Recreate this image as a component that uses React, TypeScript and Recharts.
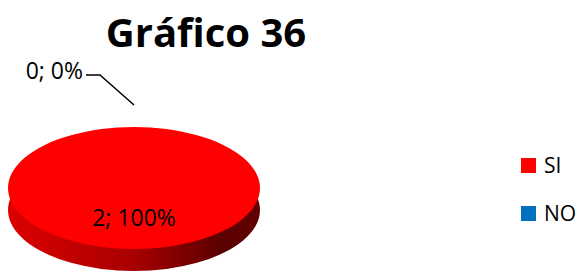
import { Cell, Legend, Pie, PieChart } from 'recharts';

const categories = ['SI', 'NO'];
const counts = [2, 0];
const sliceColors = ['#ff0000', '#0070c0'];

const rows = categories.map((name, i) => ({ name, value: counts[i] }));

// vertical squash of the pie layers, turns the circle into the 3d disc's ellipse
const K = 0.484;
const CX = 134;
const CY = 188;
const R = 126;
const DEPTH = 22;
const RAD = Math.PI / 180;

const css = `
body { margin: 0; }
.recharts-pie.pie3d { transform: scale(1, ${K}); transform-origin: ${CX}px ${CY}px; }
`;

// labels live outside the squashed layer, so they are placed in screen space
function renderLabel(props: any) {
  const { cx, cy, outerRadius, midAngle, value, percent, index } = props;
  const text = `${value}; ${Math.round(percent * 100)}%`;
  const cos = Math.cos(-midAngle * RAD);
  const sin = Math.sin(-midAngle * RAD);
  if (index === 0) {
    const x = cx + outerRadius * 0.47 * cos;
    const y = cy + outerRadius * K * 0.47 * sin;
    return (
      <text key="l0" x={x} y={y} textAnchor="middle" dominantBaseline="central" fill="#000" fontSize={23} fontFamily="'Open Sans', sans-serif">
        {text}
      </text>
    );
  }
  const ex = cx + outerRadius * cos;
  const ey = cy + outerRadius * K * sin - DEPTH;
  const mx = ex - 34;
  const my = ey - 30;
  return (
    <g key="l1">
      <polyline points={`${ex},${ey} ${mx},${my} ${mx - 14},${my}`} fill="none" stroke="#000" strokeWidth={1.5} />
      <text x={mx - 17} y={my - 5} textAnchor="end" dominantBaseline="central" fill="#000" fontSize={23} fontFamily="'Open Sans', sans-serif">
        {text}
      </text>
    </g>
  );
}

function LegendBox() {
  return (
    <div style={{ fontFamily: "'Open Sans', sans-serif", fontSize: 21, color: '#000' }}>
      {categories.map((name, i) => (
        <div key={name} style={{ display: 'flex', alignItems: 'center', height: 48 }}>
          <span style={{ width: 15, height: 15, background: sliceColors[i], display: 'inline-block', marginRight: 8 }} />
          <span>{name}</span>
        </div>
      ))}
    </div>
  );
}

export default function App() {
  return (
    <div style={{ position: 'relative', width: 578, height: 272, background: '#fff', overflow: 'hidden' }}>
      <style>{css}</style>
      <div
        style={{
          position: 'absolute',
          left: 0,
          top: 12,
          width: 412,
          textAlign: 'center',
          fontFamily: "'Open Sans', sans-serif",
          fontWeight: 700,
          fontSize: 40,
          lineHeight: '40px',
          color: '#000',
          zIndex: 2,
        }}
      >
        Gráfico 36
      </div>
      <PieChart width={578} height={272} margin={{ top: 0, right: 0, bottom: 0, left: 0 }}>
        <defs>
          <linearGradient id="sideFill" x1="0" y1="0" x2="1" y2="0">
            <stop offset="0%" stopColor="#dc0000" />
            <stop offset="50%" stopColor="#a80000" />
            <stop offset="85%" stopColor="#5a0000" />
            <stop offset="100%" stopColor="#620000" />
          </linearGradient>
        </defs>
        <Pie
          data={rows}
          dataKey="value"
          nameKey="name"
          className="pie3d"
          cx={CX}
          cy={CY + DEPTH / K}
          outerRadius={R}
          startAngle={90}
          endAngle={-270}
          stroke="none"
          legendType="none"
          label={false}
          labelLine={false}
          isAnimationActive={false}
        >
          {rows.map((r) => (
            <Cell key={r.name} fill="url(#sideFill)" />
          ))}
        </Pie>
        <Pie
          data={rows}
          dataKey="value"
          nameKey="name"
          className="pie3d"
          cx={CX}
          cy={CY}
          outerRadius={R}
          startAngle={90}
          endAngle={-270}
          stroke="none"
          label={renderLabel}
          labelLine={false}
          isAnimationActive={false}
        >
          {rows.map((r, i) => (
            <Cell key={r.name} fill={sliceColors[i]} />
          ))}
        </Pie>
        <Legend
          layout="vertical"
          align="right"
          verticalAlign="top"
          content={<LegendBox />}
          wrapperStyle={{ position: 'absolute', left: 521, top: 141, width: 57 }}
        />
      </PieChart>
    </div>
  );
}
